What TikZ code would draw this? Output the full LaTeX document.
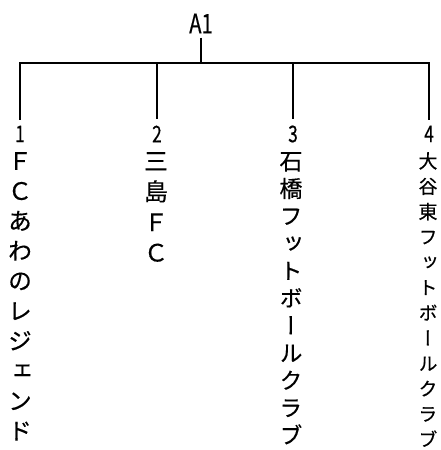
\documentclass[tikz,border=0pt]{standalone}
\usepackage{fontspec}
\setmainfont{Noto Sans CJK JP}
\newfontfamily\jpv[RawFeature=+vert, FakeBold=0.4]{Noto Sans CJK JP}
\newfontfamily\narrow[FakeStretch=0.75, FakeBold=0.4]{Noto Sans CJK JP}
\tikzset{
  branch/.style={line width=2.4pt},
  num/.style={font=\narrow\fontsize{23}{23}\selectfont, inner sep=6pt},
  team/.style={anchor=north, align=center, inner sep=0pt},
}
\begin{document}
\begin{tikzpicture}[x=1pt,y=-1pt]
  \useasboundingbox (0,0) rectangle (441,450);
  \node[font=\narrow\fontsize{27}{27}\selectfont, inner sep=4pt] (a1) at (201,23.5) {A1};
  \coordinate (hub) at (201,63);
  \node[num] (n1) at (20,134) {1};
  \node[num] (n2) at (157,134) {2};
  \node[num] (n3) at (293,134) {3};
  \node[num] (n4) at (429,134) {4};
  \node[team, font=\jpv\fontsize{24}{30}\selectfont] (t1) at (20,152) {Ｆ\\Ｃ\\あ\\わ\\の\\レ\\ジ\\ェ\\ン\\ド};
  \node[team, font=\jpv\fontsize{24}{30.5}\selectfont] (t2) at (156,152) {三\\島\\Ｆ\\Ｃ};
  \node[team, font=\jpv\fontsize{23}{27.4}\selectfont] (t3) at (291,152) {石\\橋\\フ\\ッ\\ト\\ボ\\ー\\ル\\ク\\ラ\\ブ};
  \node[team, font=\jpv\fontsize{19}{25.3}\selectfont] (t4) at (428,152) {大\\谷\\東\\フ\\ッ\\ト\\ボ\\ー\\ル\\ク\\ラ\\ブ};
  \draw[branch] (a1) -- (hub);
  \foreach \n in {1,...,4}
    \draw[branch] (hub) -| (n\n);
\end{tikzpicture}
\end{document}
